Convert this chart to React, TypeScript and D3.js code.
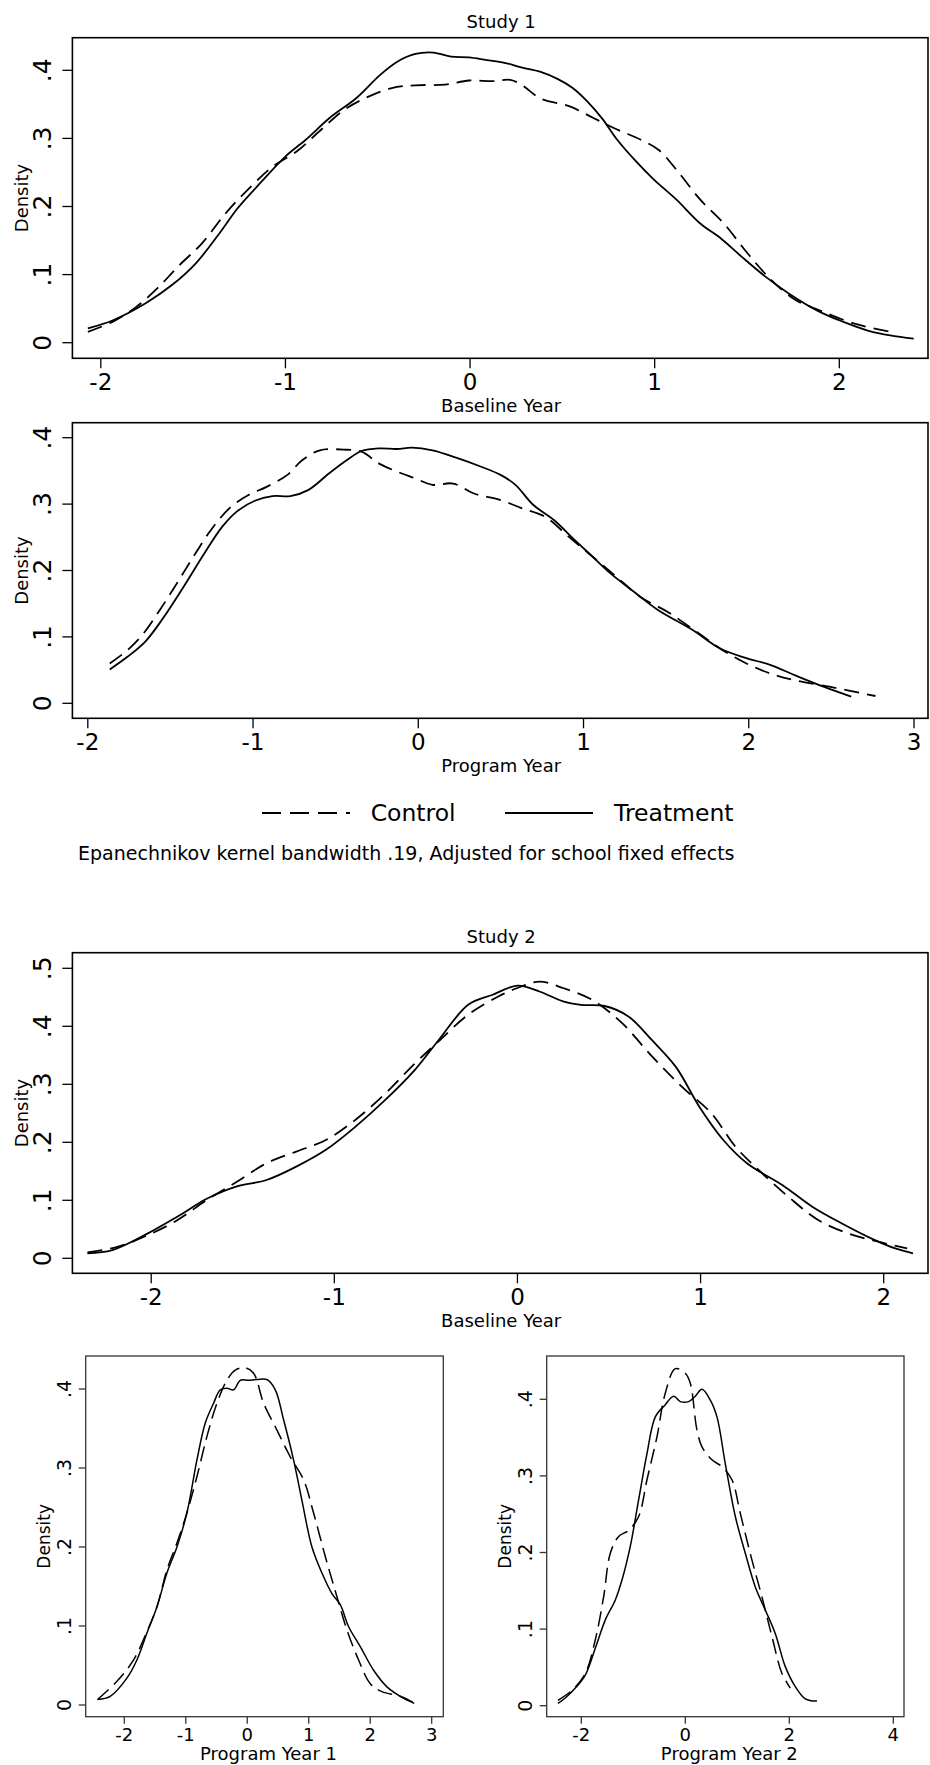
import * as d3 from "d3";

// kernel density estimates, [x, density]
const s1BaselineControl: [number, number][] = [
  [-2.07, 0.016], [-1.934, 0.031], [-1.806, 0.053], [-1.693, 0.08], [-1.581, 0.112],
  [-1.452, 0.146], [-1.324, 0.19], [-1.195, 0.227], [-1.067, 0.259], [-0.938, 0.281],
  [-0.81, 0.312], [-0.681, 0.342], [-0.553, 0.361], [-0.424, 0.374], [-0.296, 0.378],
  [-0.135, 0.379], [-0.006, 0.385], [0.122, 0.384], [0.218, 0.386], [0.283, 0.378],
  [0.379, 0.359], [0.54, 0.347], [0.668, 0.33], [0.797, 0.313], [0.925, 0.298],
  [1.022, 0.283], [1.118, 0.254], [1.247, 0.21], [1.375, 0.175], [1.504, 0.131],
  [1.632, 0.092], [1.761, 0.063], [1.889, 0.048], [2.082, 0.028], [2.28, 0.016],
];
const s1BaselineTreatment: [number, number][] = [
  [-2.07, 0.021], [-1.934, 0.033], [-1.757, 0.058], [-1.613, 0.085], [-1.484, 0.117],
  [-1.356, 0.161], [-1.26, 0.197], [-1.131, 0.236], [-1.002, 0.273], [-0.89, 0.298],
  [-0.761, 0.33], [-0.617, 0.359], [-0.488, 0.393], [-0.392, 0.413], [-0.296, 0.424],
  [-0.199, 0.426], [-0.103, 0.42], [-0.006, 0.419], [0.09, 0.415], [0.186, 0.411],
  [0.283, 0.404], [0.379, 0.398], [0.476, 0.387], [0.556, 0.374], [0.636, 0.354],
  [0.716, 0.329], [0.797, 0.298], [0.893, 0.268], [0.99, 0.241], [1.118, 0.21],
  [1.247, 0.175], [1.359, 0.153], [1.472, 0.126], [1.6, 0.097], [1.728, 0.072],
  [1.889, 0.046], [2.018, 0.031], [2.178, 0.016], [2.403, 0.006],
];

const s1ProgramControl: [number, number][] = [
  [-1.867, 0.06], [-1.76, 0.08], [-1.67, 0.103], [-1.563, 0.141], [-1.455, 0.183],
  [-1.348, 0.226], [-1.24, 0.266], [-1.133, 0.296], [-1.025, 0.314], [-0.918, 0.326],
  [-0.792, 0.344], [-0.703, 0.366], [-0.595, 0.381], [-0.452, 0.382], [-0.344, 0.379],
  [-0.237, 0.361], [-0.129, 0.349], [-0.022, 0.339], [0.086, 0.329], [0.211, 0.331],
  [0.337, 0.316], [0.498, 0.306], [0.624, 0.294], [0.767, 0.281], [0.91, 0.251],
  [1.054, 0.221], [1.197, 0.191], [1.34, 0.161], [1.52, 0.136], [1.699, 0.105],
  [1.842, 0.08], [1.986, 0.06], [2.129, 0.045], [2.272, 0.035], [2.487, 0.025],
  [2.767, 0.011],
];
const s1ProgramTreatment: [number, number][] = [
  [-1.867, 0.051], [-1.76, 0.07], [-1.652, 0.093], [-1.545, 0.128], [-1.419, 0.176],
  [-1.294, 0.226], [-1.186, 0.266], [-1.097, 0.289], [-0.989, 0.305], [-0.882, 0.312],
  [-0.774, 0.312], [-0.667, 0.321], [-0.541, 0.346], [-0.434, 0.366], [-0.344, 0.38],
  [-0.237, 0.384], [-0.129, 0.383], [-0.039, 0.385], [0.086, 0.381], [0.229, 0.37],
  [0.373, 0.357], [0.498, 0.344], [0.588, 0.329], [0.695, 0.299], [0.821, 0.276],
  [0.946, 0.246], [1.054, 0.221], [1.161, 0.196], [1.305, 0.168], [1.448, 0.141],
  [1.663, 0.11], [1.824, 0.083], [1.986, 0.068], [2.129, 0.058], [2.272, 0.043],
  [2.452, 0.025], [2.62, 0.01],
];

const s2BaselineControl: [number, number][] = [
  [-2.348, 0.01], [-2.18, 0.02], [-2.018, 0.04], [-1.856, 0.066], [-1.694, 0.101],
  [-1.532, 0.132], [-1.37, 0.164], [-1.208, 0.184], [-1.046, 0.204], [-0.884, 0.239],
  [-0.722, 0.284], [-0.56, 0.336], [-0.431, 0.374], [-0.269, 0.42], [-0.107, 0.451],
  [0, 0.466], [0.12, 0.477], [0.249, 0.466], [0.411, 0.445], [0.573, 0.405],
  [0.735, 0.348], [0.897, 0.296], [1.059, 0.25], [1.189, 0.193], [1.318, 0.152],
  [1.48, 0.106], [1.642, 0.066], [1.804, 0.043], [1.966, 0.029], [2.128, 0.017],
];
const s2BaselineTreatment: [number, number][] = [
  [-2.348, 0.0086], [-2.212, 0.014], [-2.018, 0.043], [-1.856, 0.072], [-1.694, 0.103],
  [-1.532, 0.124], [-1.37, 0.135], [-1.208, 0.158], [-1.046, 0.187], [-0.884, 0.227],
  [-0.722, 0.273], [-0.56, 0.325], [-0.431, 0.376], [-0.269, 0.437], [-0.139, 0.454],
  [0, 0.47], [0.12, 0.46], [0.249, 0.443], [0.347, 0.437], [0.476, 0.435],
  [0.606, 0.417], [0.735, 0.376], [0.865, 0.33], [0.994, 0.261], [1.124, 0.204],
  [1.253, 0.164], [1.448, 0.126], [1.61, 0.089], [1.772, 0.06], [1.934, 0.034],
  [2.063, 0.017], [2.16, 0.0086],
];

const s2Year1Control: [number, number][] = [
  [-2.435, 0.007], [-2.12, 0.03], [-1.849, 0.057], [-1.632, 0.093], [-1.47, 0.124],
  [-1.307, 0.171], [-1.144, 0.205], [-0.982, 0.243], [-0.819, 0.289], [-0.656, 0.34],
  [-0.493, 0.382], [-0.331, 0.411], [-0.195, 0.424], [-0.033, 0.427], [0.103, 0.42],
  [0.266, 0.382], [0.483, 0.348], [0.7, 0.314], [0.916, 0.285], [1.079, 0.243],
  [1.269, 0.188], [1.459, 0.137], [1.621, 0.095], [1.811, 0.057], [2.001, 0.027],
  [2.191, 0.017], [2.489, 0.011], [2.706, 0.003],
];
const s2Year1Treatment: [number, number][] = [
  [-2.435, 0.007], [-2.229, 0.011], [-1.958, 0.034], [-1.795, 0.057], [-1.632, 0.091],
  [-1.47, 0.124], [-1.307, 0.167], [-1.144, 0.2], [-0.982, 0.243], [-0.819, 0.31],
  [-0.683, 0.357], [-0.548, 0.382], [-0.439, 0.399], [-0.331, 0.401], [-0.222, 0.399],
  [-0.114, 0.411], [0.022, 0.411], [0.157, 0.412], [0.32, 0.412], [0.456, 0.399],
  [0.591, 0.361], [0.754, 0.31], [0.889, 0.259], [1.052, 0.2], [1.215, 0.167],
  [1.377, 0.141], [1.513, 0.127], [1.649, 0.099], [1.838, 0.074], [2.055, 0.044],
  [2.272, 0.023], [2.489, 0.011], [2.717, 0.002],
];

const s2Year2Control: [number, number][] = [
  [-2.449, 0.007], [-2.179, 0.02], [-1.923, 0.042], [-1.731, 0.086], [-1.571, 0.142],
  [-1.442, 0.199], [-1.282, 0.221], [-1.09, 0.229], [-0.897, 0.247], [-0.737, 0.295],
  [-0.545, 0.351], [-0.385, 0.408], [-0.192, 0.44], [0, 0.434], [0.096, 0.421],
  [0.224, 0.36], [0.321, 0.338], [0.513, 0.321], [0.705, 0.312], [0.897, 0.295],
  [1.058, 0.251], [1.282, 0.19], [1.474, 0.142], [1.667, 0.09], [1.859, 0.042],
  [2.019, 0.023],
];
const s2Year2Treatment: [number, number][] = [
  [-2.449, 0.003], [-2.308, 0.01], [-2.115, 0.023], [-1.923, 0.04], [-1.731, 0.075],
  [-1.538, 0.112], [-1.346, 0.138], [-1.218, 0.164], [-1.058, 0.208], [-0.897, 0.269],
  [-0.737, 0.329], [-0.577, 0.377], [-0.385, 0.393], [-0.224, 0.404], [-0.096, 0.397],
  [0.064, 0.397], [0.192, 0.404], [0.321, 0.413], [0.481, 0.399], [0.609, 0.377],
  [0.769, 0.316], [0.962, 0.247], [1.154, 0.199], [1.346, 0.155], [1.538, 0.125],
  [1.731, 0.094], [1.923, 0.051], [2.115, 0.025], [2.308, 0.009], [2.532, 0.006],
];

const ticksYear = [-2, -1, 0, 1, 2];
const ticksYear3 = [-2, -1, 0, 1, 2, 3];
const ticksYear2 = [-2, 0, 2, 4];
const ticksDens4 = [0, 0.1, 0.2, 0.3, 0.4];
const ticksDens5 = [0, 0.1, 0.2, 0.3, 0.4, 0.5];

const FONT = "'DejaVu Sans', Verdana, sans-serif";
const fmtDens = (v: number) => (v === 0 ? "0" : d3.format(".1f")(v).replace(/^0/, ""));

interface PanelProps {
  box: [number, number, number, number]; // left, top, right, bottom
  xMap: [number, number, number, number]; // tick a, px a, tick b, px b
  yMap: [number, number, number, number];
  xTicks: number[];
  yTicks: number[];
  control: [number, number][];
  treatment: [number, number][];
  title?: string;
  xLabel: string;
  small?: boolean;
}

const Panel = ({ box, xMap, yMap, xTicks, yTicks, control, treatment, title, xLabel, small }: PanelProps) => {
  const [left, top, right, bottom] = box;
  const x = d3.scaleLinear().domain([xMap[0], xMap[2]]).range([xMap[1], xMap[3]]);
  const y = d3.scaleLinear().domain([yMap[0], yMap[2]]).range([yMap[1], yMap[3]]);
  const line = d3.line<[number, number]>()
    .x(d => x(d[0]))
    .y(d => y(d[1]))
    .curve(d3.curveCatmullRom.alpha(0.5));

  const tick = small ? 7 : 10;
  const yLabX = small ? left - 22 : left - 30;
  const densX = small ? left - 42 : left - 51;
  const yFont = small ? 19 : 25;
  const xFont = small ? 18 : 23;
  const xLabY = small ? bottom + 17.5 : bottom + 23.4;
  const titleY = small ? bottom + 36.5 : bottom + 47;
  const lw = small ? 1.5 : 1.8;
  const axisColor = small ? "#333" : "#000";
  const midY = (top + bottom) / 2;

  return (
    <g fontFamily={FONT} fill="#000">
      {title && (
        <text x={(left + right) / 2 + 1} y={top - 16} textAnchor="middle" dominantBaseline="central" fontSize={18}>
          {title}
        </text>
      )}
      <rect x={left} y={top} width={right - left} height={bottom - top} fill="none" stroke={axisColor} strokeWidth={small ? 1.3 : 1.6} />
      {yTicks.map(t => (
        <g key={"y" + t}>
          <line x1={left - tick} x2={left} y1={y(t)} y2={y(t)} stroke={axisColor} strokeWidth={1.3} />
          <text transform={`translate(${yLabX},${y(t)}) rotate(-90)`} textAnchor="middle" dominantBaseline="central" fontSize={yFont}>
            {fmtDens(t)}
          </text>
        </g>
      ))}
      {xTicks.map(t => (
        <g key={"x" + t}>
          <line x1={x(t)} x2={x(t)} y1={bottom} y2={bottom + tick} stroke={axisColor} strokeWidth={1.3} />
          <text x={x(t)} y={xLabY} textAnchor="middle" dominantBaseline="central" fontSize={xFont}>
            {String(t)}
          </text>
        </g>
      ))}
      <text transform={`translate(${densX},${midY}) rotate(-90)`} textAnchor="middle" dominantBaseline="central" fontSize={small ? 17 : 18}>
        Density
      </text>
      <text x={(left + right) / 2 + (small ? 4 : 1)} y={titleY} textAnchor="middle" dominantBaseline="central" fontSize={18}>
        {xLabel}
      </text>
      <path d={line(control) || ""} fill="none" stroke="#000" strokeWidth={lw} strokeDasharray={small ? "15,7" : "15,8"} />
      <path d={line(treatment) || ""} fill="none" stroke="#000" strokeWidth={lw} />
    </g>
  );
};

export default function App() {
  return (
    <svg width={930} height={1765} style={{ position: "absolute", left: 0, top: 0, background: "#fff" }}>
      <rect width={930} height={1765} fill="#fff" />
      <Panel
        box={[72.4, 37.7, 928, 358.3]}
        xMap={[-2, 100.8, 2, 839.3]}
        yMap={[0, 342.7, 0.4, 70.3]}
        xTicks={ticksYear}
        yTicks={ticksDens4}
        control={s1BaselineControl}
        treatment={s1BaselineTreatment}
        title="Study 1"
        xLabel="Baseline Year"
      />
      <Panel
        box={[72.4, 422.7, 928, 718.3]}
        xMap={[-2, 87.8, 3, 914]}
        yMap={[0, 703.3, 0.4, 437.7]}
        xTicks={ticksYear3}
        yTicks={ticksDens4}
        control={s1ProgramControl}
        treatment={s1ProgramTreatment}
        xLabel="Program Year"
      />
      {/* legend */}
      <g fontFamily={FONT} fontSize={23.5}>
        <line x1={262} x2={350} y1={813} y2={813} stroke="#000" strokeWidth={2} strokeDasharray="19,9" />
        <text x={370.7} y={813} dominantBaseline="central">Control</text>
        <line x1={505} x2={593} y1={813} y2={813} stroke="#000" strokeWidth={2} />
        <text x={614} y={813} dominantBaseline="central">Treatment</text>
      </g>
      <text x={78} y={853.3} fontFamily={FONT} fontSize={19} dominantBaseline="central">
        Epanechnikov kernel bandwidth .19, Adjusted for school fixed effects
      </text>
      <Panel
        box={[72.4, 952.7, 928, 1273.3]}
        xMap={[-2, 151.2, 2, 883.7]}
        yMap={[0, 1258.3, 0.5, 968.3]}
        xTicks={ticksYear}
        yTicks={ticksDens5}
        control={s2BaselineControl}
        treatment={s2BaselineTreatment}
        title="Study 2"
        xLabel="Baseline Year"
      />
      <Panel
        box={[85.7, 1356, 443.3, 1716.7]}
        xMap={[-2, 124.3, 3, 431.7]}
        yMap={[0, 1705, 0.4, 1389]}
        xTicks={ticksYear3}
        yTicks={ticksDens4}
        control={s2Year1Control}
        treatment={s2Year1Treatment}
        xLabel="Program Year 1"
        small
      />
      <Panel
        box={[546.7, 1356, 904, 1716.7]}
        xMap={[-2, 581.3, 4, 893.3]}
        yMap={[0, 1705.7, 0.4, 1399.3]}
        xTicks={ticksYear2}
        yTicks={ticksDens4}
        control={s2Year2Control}
        treatment={s2Year2Treatment}
        xLabel="Program Year 2"
        small
      />
    </svg>
  );
}
